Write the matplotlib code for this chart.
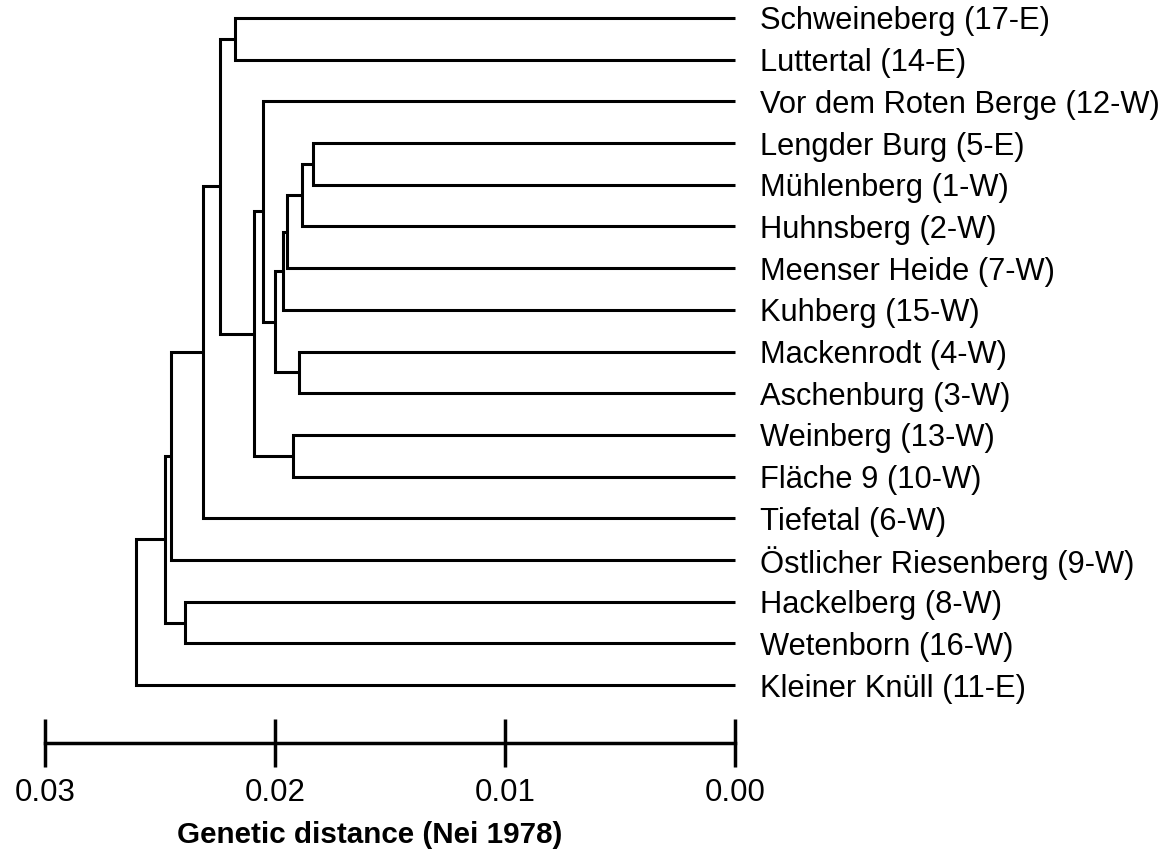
import matplotlib
matplotlib.use("Agg")
import matplotlib.pyplot as plt

plt.rcParams['font.family'] = ['Liberation Sans', 'DejaVu Sans']

# populations, top to bottom
leaves = [
    "Schweineberg (17-E)",
    "Luttertal (14-E)",
    "Vor dem Roten Berge (12-W)",
    "Lengder Burg (5-E)",
    "Mühlenberg (1-W)",
    "Huhnsberg (2-W)",
    "Meenser Heide (7-W)",
    "Kuhberg (15-W)",
    "Mackenrodt (4-W)",
    "Aschenburg (3-W)",
    "Weinberg (13-W)",
    "Fläche 9 (10-W)",
    "Tiefetal (6-W)",
    "Östlicher Riesenberg (9-W)",
    "Hackelberg (8-W)",
    "Wetenborn (16-W)",
    "Kleiner Knüll (11-E)",
]

# clustering steps: new node id = 17, 18, ...
merge_a = [3, 17, 18, 19, 8, 20, 2, 10, 23, 0, 26, 27, 28, 14, 29, 31]
merge_b = [4, 5, 6, 7, 9, 21, 22, 11, 24, 1, 25, 12, 13, 15, 30, 16]
merge_dist = [0.01833, 0.01881, 0.01949, 0.01967, 0.01894, 0.02000,
              0.02052, 0.01920, 0.02093, 0.02174, 0.02239, 0.02311,
              0.02450, 0.02391, 0.02478, 0.02606]

scale_ticks = [0.03, 0.02, 0.01, 0.00]

W, H = 1163, 852
fig = plt.figure(figsize=(W / 100, H / 100), dpi=100)

ax = fig.add_axes([0, 0, 1, 1])
px = 23000.0          # pixels per distance unit
row = 41.69           # pixels per leaf row
ax.set_xlim(0.03 + 45 / px, -(W - 735) / px)
ax.set_ylim((H - 18) / row, -18 / row)
ax.axis('off')

n = len(leaves)
ypos = {i: float(i) for i in range(n)}
height = {i: 0.0 for i in range(n)}

lw = 2.2
for k, (a, b, d) in enumerate(zip(merge_a, merge_b, merge_dist)):
    node = n + k
    ax.plot([height[a], d, d, height[b]], [ypos[a], ypos[a], ypos[b], ypos[b]],
            color='black', lw=lw, solid_joinstyle='miter', solid_capstyle='butt')
    ypos[node] = (ypos[a] + ypos[b]) / 2
    height[node] = d

for i, name in enumerate(leaves):
    ax.annotate(name, (0.0, i), xytext=(18, 0), textcoords='offset points',
                va='center_baseline', ha='left', fontsize=22.2)

# distance scale bar
ax2 = fig.add_axes([45 / W, 1 - 743 / H, 690 / W, 0.001])
ax2.set_xlim(0.03, 0.0)
ax2.set_ylim(0, 1)
for side in ['top', 'left', 'right']:
    ax2.spines[side].set_visible(False)
ax2.spines['bottom'].set_linewidth(2.5)
ax2.set_yticks([])
ax2.set_xticks(scale_ticks)
ax2.set_xticklabels([f"{t:.2f}" for t in scale_ticks])
ax2.tick_params(axis='x', direction='inout', length=34, width=2.5,
                pad=8.5, labelsize=22.5)
ax2.patch.set_visible(False)
ax2.set_xlabel("Genetic distance (Nei 1978)", fontsize=21.3, fontweight='bold')
ax2.xaxis.set_label_coords(370 / W, 1 - 821 / H, transform=fig.transFigure)

fig.savefig("out.png", dpi=100)
